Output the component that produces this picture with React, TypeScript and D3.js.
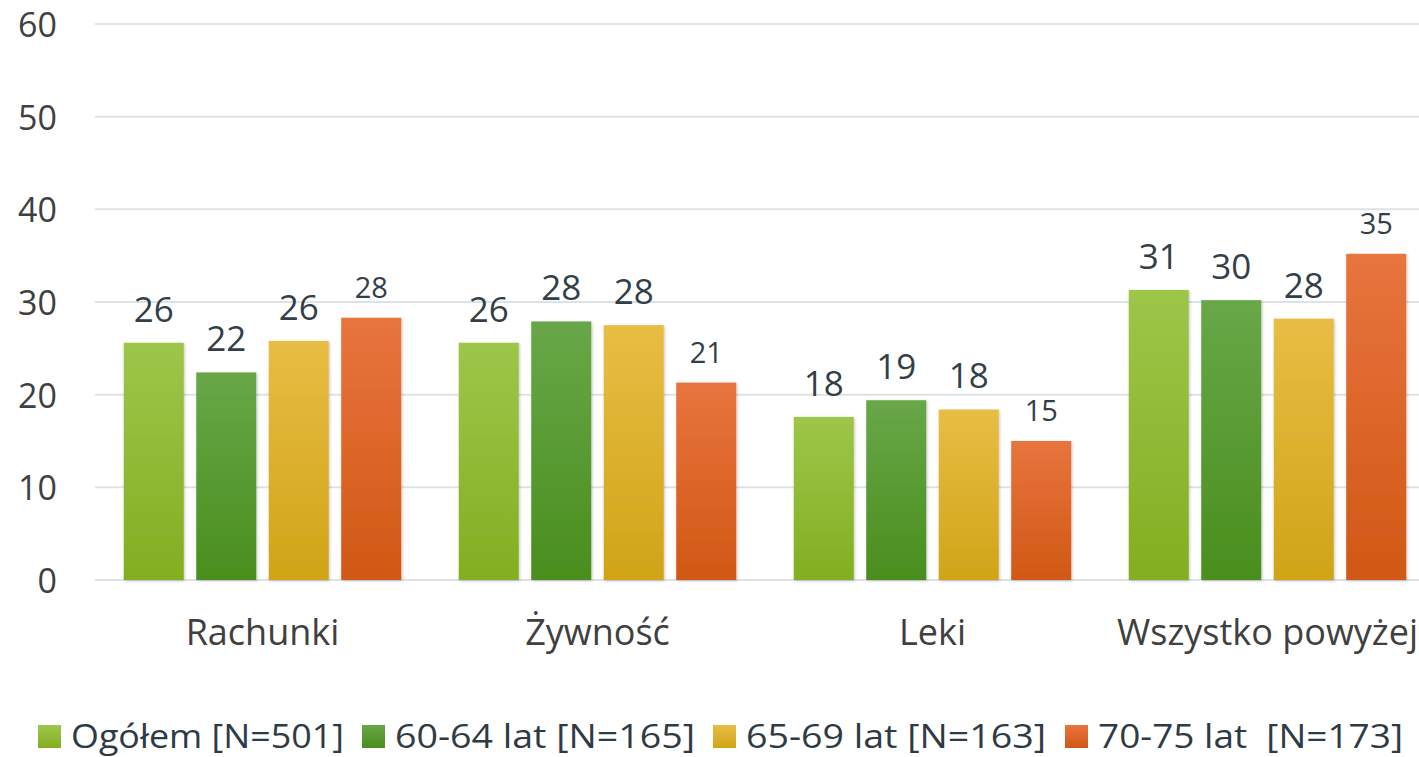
import { useEffect, useRef } from 'react';
import * as d3 from 'd3';

const categories = ['Rachunki', 'Żywność', 'Leki', 'Wszystko powyżej'];
const seriesNames = ['Ogółem [N=501]', '60-64 lat [N=165]', '65-69 lat [N=163]', '70-75 lat  [N=173]'];
const ogolem = [25.6, 25.6, 17.6, 31.3];
const lat6064 = [22.4, 27.9, 19.4, 30.2];
const lat6569 = [25.8, 27.5, 18.4, 28.2];
const lat7075 = [28.3, 21.3, 15.0, 35.2];
const yTicks = [0, 10, 20, 30, 40, 50, 60];

const seriesValues = [ogolem, lat6064, lat6569, lat7075];
const gradTop = ['#9DC649', '#68A748', '#E8BD44', '#E8743F'];
const gradBottom = ['#83AE21', '#4A8E1D', '#D0A417', '#D15814'];

const W = 1419;
const H = 757;

export default function App() {
    const ref = useRef<SVGSVGElement>(null);

    useEffect(() => {
        document.body.style.margin = '0';
        const svg = d3.select(ref.current);
        svg.selectAll('*').remove();

        const x0 = d3.scaleBand().domain(categories).range([95, 1435]);
        const x1 = d3.scaleBand().domain(seriesNames).range([28.75, 335 - 28.75]).paddingInner(0.172);
        const y = d3.scaleLinear().domain([0, 60]).range([580, 24]);

        const defs = svg.append('defs');
        seriesNames.forEach((s, i) => {
            const g = defs.append('linearGradient')
                .attr('id', `grad${i}`)
                .attr('x1', 0).attr('y1', 0).attr('x2', 0).attr('y2', 1);
            g.append('stop').attr('offset', '0%').attr('stop-color', gradTop[i]);
            g.append('stop').attr('offset', '100%').attr('stop-color', gradBottom[i]);
        });
        defs.append('filter').attr('id', 'shadow')
            .attr('x', '-20%').attr('y', '-10%').attr('width', '140%').attr('height', '120%')
            .append('feDropShadow')
            .attr('dx', 1).attr('dy', 1).attr('stdDeviation', 1.5)
            .attr('flood-color', '#000').attr('flood-opacity', 0.22);

        // grid + y labels
        const grid = svg.append('g');
        yTicks.forEach(t => {
            grid.append('line')
                .attr('x1', 95).attr('x2', W)
                .attr('y1', y(t)).attr('y2', y(t))
                .attr('stroke', '#DCE3E8').attr('stroke-width', 2);
            grid.append('text')
                .attr('x', 57).attr('y', y(t) + 13)
                .attr('text-anchor', 'end')
                .attr('font-family', 'Open Sans')
                .attr('font-size', 34)
                .attr('fill', '#404040')
                .text(t);
        });

        // bars
        categories.forEach((c, ci) => {
            const g = svg.append('g').attr('transform', `translate(${x0(c)},0)`);
            seriesNames.forEach((s, si) => {
                const v = seriesValues[si][ci];
                g.append('rect')
                    .attr('x', x1(s)!)
                    .attr('y', y(v))
                    .attr('width', x1.bandwidth())
                    .attr('height', y(0) - y(v))
                    .attr('fill', `url(#grad${si})`)
                    .attr('filter', 'url(#shadow)');
                const small = si === 3;
                g.append('text')
                    .attr('x', x1(s)! + x1.bandwidth() / 2)
                    .attr('y', y(v) - (small ? 20 : 21))
                    .attr('text-anchor', 'middle')
                    .attr('font-family', 'Open Sans')
                    .attr('font-size', small ? 29 : 35)
                    .attr('fill', '#333F48')
                    .text(Math.round(v));
            });
            svg.append('text')
                .attr('x', x0(c)! + x0.bandwidth() / 2)
                .attr('y', 645)
                .attr('text-anchor', 'middle')
                .attr('font-family', 'Open Sans')
                .attr('font-size', 36)
                .attr('fill', '#404040')
                .text(c);
        });

        // legend
        const legX = [38, 362, 713, 1065];
        const legW = [273, 300, 300, 305];
        const leg = svg.append('g');
        seriesNames.forEach((s, i) => {
            leg.append('rect')
                .attr('x', legX[i]).attr('y', 725)
                .attr('width', 23).attr('height', 23)
                .attr('fill', `url(#grad${i})`);
            leg.append('text')
                .attr('x', legX[i] + 33).attr('y', 748)
                .attr('font-family', 'Open Sans')
                .attr('font-size', 32)
                .attr('fill', '#2E3B44')
                .attr('textLength', legW[i])
                .attr('lengthAdjust', 'spacingAndGlyphs')
                .attr('xml:space', 'preserve')
                .style('white-space', 'pre')
                .text(s);
        });
    }, []);

    return <svg ref={ref} width={W} height={H} style={{ display: 'block' }} />;
}
